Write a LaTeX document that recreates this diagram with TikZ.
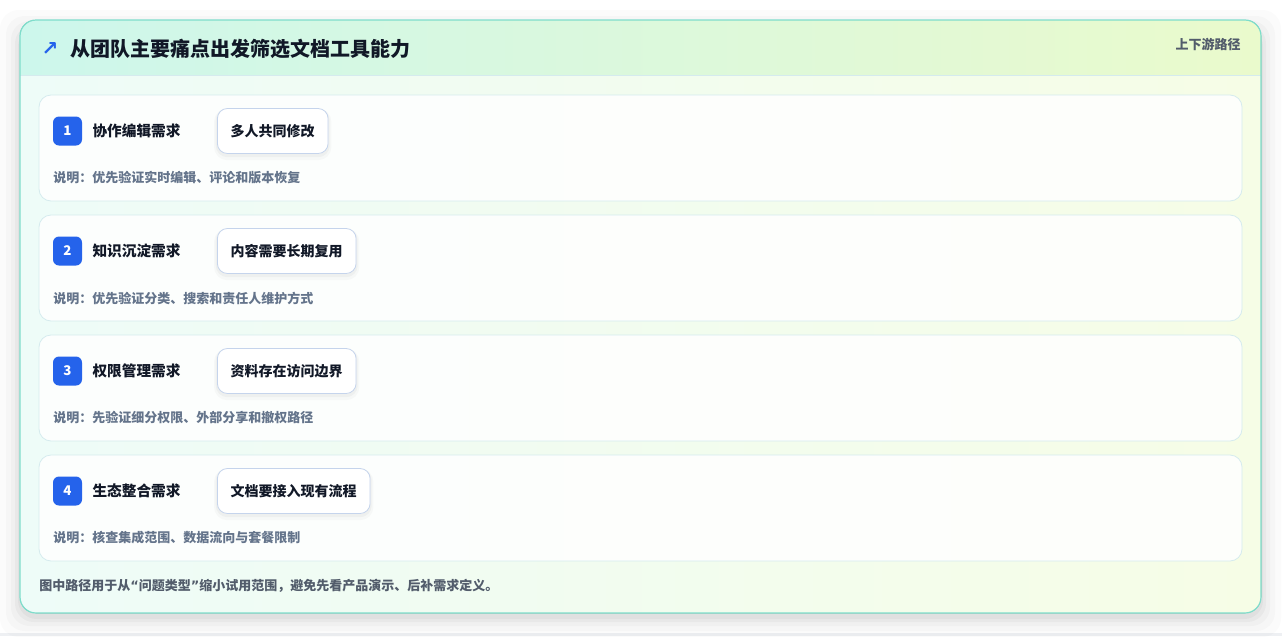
\documentclass[tikz,border=0pt]{standalone}
\usepackage{fontspec}
\setmainfont{Noto Sans CJK SC}
\newfontfamily\symfont{DejaVu Sans}
\usetikzlibrary{positioning}

\definecolor{inkdark}{HTML}{111827}
\definecolor{inkgray}{HTML}{64748B}
\definecolor{footgray}{HTML}{525C6B}
\definecolor{badgeblue}{HTML}{2563EB}
\definecolor{tealline}{HTML}{7EDDCB}
\definecolor{headleft}{HTML}{CDF7EC}
\definecolor{headright}{HTML}{EAFACC}
\definecolor{bodyleft}{HTML}{EEFCF8}
\definecolor{bodyright}{HTML}{F6FDE6}
\definecolor{rowline}{HTML}{D5EBEE}
\definecolor{chipline}{HTML}{C5D4EC}
\definecolor{pagegray}{HTML}{EEF0F3}

\tikzset{
  rowcard/.style={draw=rowline, fill=white, fill opacity=0.85, rounded corners=9pt, line width=0.6pt},
  badge/.style={fill=badgeblue, rounded corners=4.5pt, minimum size=21.75pt, inner sep=0pt,
    text=white, font=\bfseries\fontsize{10}{12}\selectfont},
  needlbl/.style={anchor=west, inner sep=0pt, text=inkdark, font=\bfseries\fontsize{11}{13}\selectfont},
  chip/.style={anchor=west, draw=chipline, fill=white, rounded corners=7.5pt, line width=0.6pt,
    minimum height=33.75pt, inner xsep=10pt, text=inkdark, font=\bfseries\fontsize{10.5}{13}\selectfont,
    preaction={draw=black, draw opacity=0.025, line width=5pt, transform canvas={yshift=-2.5pt}},
    preaction={draw=black, draw opacity=0.03, line width=2.5pt, transform canvas={yshift=-1.5pt}}},
  desc/.style={anchor=west, inner sep=0pt, text=inkgray, font=\bfseries\fontsize{9.75}{12}\selectfont},
}

\begin{document}
\begin{tikzpicture}[x=0.75pt, y=-0.75pt]
	\useasboundingbox (0,0) rectangle (1282,636);
	\fill[white] (0,0) rectangle (1282,636);
	\fill[pagegray] (0,633) rectangle (1282,636);
	% outer card with soft shadow
	\foreach \o/\a in {20/0.015,14/0.02,9/0.025,5/0.03,2/0.03}
		\fill[black, opacity=\a, rounded corners=14pt] (20-\o,30-\o) rectangle (1261+\o,617+\o);
	\fill[left color=bodyleft, right color=bodyright, rounded corners=12pt] (20,20) rectangle (1261,613);
	\begin{scope}
		\clip[rounded corners=12pt] (20,20) rectangle (1261,613);
		\fill[left color=headleft, right color=headright] (20,20) rectangle (1261,75);
		\draw[rowline, line width=0.6pt] (20,75) -- (1261,75);
	\end{scope}
	\draw[tealline, line width=0.9pt, rounded corners=12pt] (20,20) rectangle (1261,613);
	% header
	\node[text=badgeblue, inner sep=0pt, font=\symfont\bfseries\fontsize{15}{15}\selectfont] (icon) at (50,49) {↗};
	\node[anchor=west, inner sep=0pt, text=inkdark, font=\bfseries\fontsize{15}{18}\selectfont] (title) at (70,49) {从团队主要痛点出发筛选文档工具能力};
	\node[anchor=east, inner sep=0pt, text=footgray, font=\bfseries\fontsize{9.75}{12}\selectfont] (route) at (1241,44) {上下游路径};
	% rows
	\foreach \i/\lbl/\chp/\dsc in {
		1/协作编辑需求/多人共同修改/说明：优先验证实时编辑、评论和版本恢复,
		2/知识沉淀需求/内容需要长期复用/说明：优先验证分类、搜索和责任人维护方式,
		3/权限管理需求/资料存在访问边界/说明：先验证细分权限、外部分享和撤权路径,
		4/生态整合需求/文档要接入现有流程/说明：核查集成范围、数据流向与套餐限制}
	{
		\pgfmathsetmacro{\top}{95+120*(\i-1)}
		\draw[rowcard] (39,\top) rectangle (1242,\top+106);
		\node[badge] (b\i) at (67.5,\top+36) {\i};
		\node[needlbl, right=7.5pt of b\i] (n\i) {\lbl};
		\node[chip] (c\i) at (217,\top+36) {\chp};
		\node[desc] (d\i) at (53,\top+83) {\dsc};
	}
	% footer
	\node[anchor=west, inner sep=0pt, text=footgray, font=\bfseries\fontsize{9.75}{12}\selectfont] (note) at (39,586) {图中路径用于从{\symfont “}问题类型{\symfont ”}缩小试用范围，避免先看产品演示、后补需求定义。};
\end{tikzpicture}
\end{document}
